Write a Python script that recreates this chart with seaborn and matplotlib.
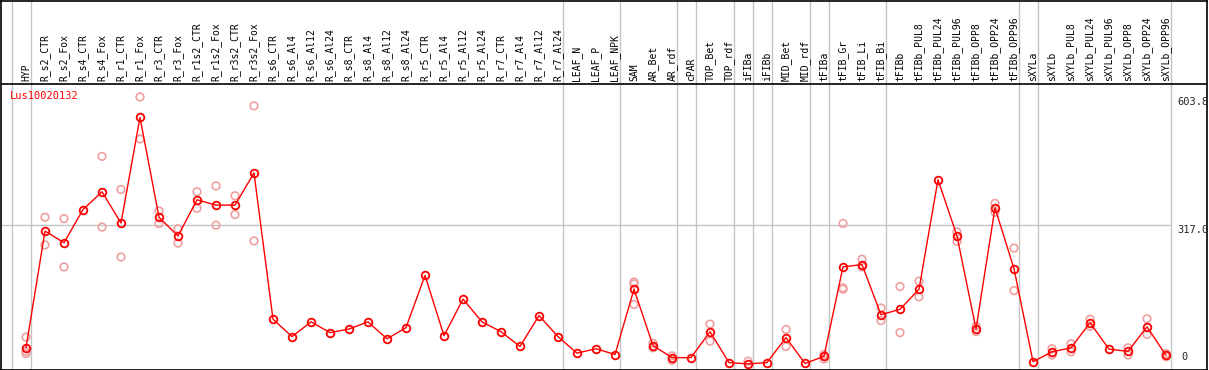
import numpy as np
import pandas as pd
import seaborn as sns
import matplotlib
matplotlib.use("Agg")
import matplotlib.pyplot as plt

# sample names along the x axis
samples = ['HYP', 'R_s2_CTR', 'R_s2_Fox', 'R_s4_CTR', 'R_s4_Fox', 'R_r1_CTR', 'R_r1_Fox',
           'R_r3_CTR', 'R_r3_Fox', 'R_r1s2_CTR', 'R_r1s2_Fox', 'R_r3s2_CTR', 'R_r3s2_Fox',
           'R_s6_CTR', 'R_s6_Al4', 'R_s6_Al12', 'R_s6_Al24', 'R_s8_CTR', 'R_s8_Al4',
           'R_s8_Al12', 'R_s8_Al24', 'R_r5_CTR', 'R_r5_Al4', 'R_r5_Al12', 'R_r5_Al24',
           'R_r7_CTR', 'R_r7_Al4', 'R_r7_Al12', 'R_r7_Al24', 'LEAF_N', 'LEAF_P', 'LEAF_NPK',
           'SAM', 'AR_Bet', 'AR_rdf', 'cPAR', 'TOP_Bet', 'TOP_rdf', 'iFIBa', 'iFIBb',
           'MID_Bet', 'MID_rdf', 'tFIBa', 'tFIB_Gr', 'tFIB_Li', 'tFIB_Bi', 'tFIBb',
           'tFIBb_PUL8', 'tFIBb_PUL24', 'tFIBb_PUL96', 'tFIBb_OPP8', 'tFIBb_OPP24',
           'tFIBb_OPP96', 'sXYLa', 'sXYLb', 'sXYLb_PUL8', 'sXYLb_PUL24', 'sXYLb_PUL96',
           'sXYLb_OPP8', 'sXYLb_OPP24', 'sXYLb_OPP96']

# mean expression per sample
mean_expr = [43, 304, 278, 352, 392, 322, 558, 335, 293, 374, 362, 362, 434,
             107, 68, 101, 77, 85, 101, 63, 88, 205, 70, 152, 101, 79, 46, 115, 68,
             31, 41, 28, 174, 48, 21, 21, 79, 10, 7, 10, 66, 8, 24, 224, 229, 117,
             129, 174, 419, 293, 85, 356, 220, 12, 34, 43, 99, 40, 35, 90, 26]

nan = np.nan
# replicate values (nan = hidden / not present)
rep_a = [67, 335, 332, nan, 471, 397, 604, 349, 309, 392, 405, 383, 584,
         nan, nan, nan, nan, nan, nan, nan, nan, nan, nan, nan, nan, nan, nan, nan, nan,
         nan, nan, nan, 190, 53, 25, nan, 96, nan, 13, nan, 84, nan, 28, 321, 241, 132,
         180, 192, nan, 302, 91, 366, 266, nan, 41, 52, 107, nan, 43, 108, 30]
rep_b = [35, 273, 224, nan, 313, 246, 510, 321, 277, 355, 317, 341, 282,
         nan, nan, nan, nan, nan, nan, nan, nan, nan, nan, nan, nan, nan, nan, nan, nan,
         nan, nan, nan, 186, 43, 15, nan, 58, nan, nan, nan, 46, nan, 18, 177, 224, 104,
         77, 157, nan, 281, 79, 346, 171, nan, 27, 34, 91, nan, 27, 73, 23]
rep_c = [30] + [nan] * 31 + [140] + [nan] * 10 + [174] + [nan] * 17

gene = 'Lus10020132'
# samples after which a group separator is drawn (-1 = left edge)
group_ends = [-1, 0, 28, 31, 34, 35, 37, 38, 39, 41, 42, 45, 52, 53, 60]

x = np.arange(len(samples))
df = pd.DataFrame({'x': x, 'mean': mean_expr})
reps = pd.DataFrame({'x': np.concatenate([x, x, x]),
                     'value': np.concatenate([rep_a, rep_b, rep_c])}).dropna()

sns.set_style('white')
plt.rcParams['font.family'] = ['DejaVu Sans Mono', 'DejaVu Sans']

fig = plt.figure(figsize=(12.09, 3.70), dpi=100)
ax = fig.add_axes([1 / 1209, 0.5 / 370, 1206 / 1209, 369 / 370])

# pixel layout: value 0 at 372px from top, 0.4533 px per unit
scale = 0.4533
y0 = 372.0
ax.set_ylim(-(y0 - 369.5) / scale, (y0 - 0.5) / scale)
ax.set_xlim((1 - 26) / 19, (1207 - 26) / 19)
band = (y0 - 85) / scale

for g in group_ends:
    ax.axvline(g + 0.25, color='#c4c4c4', lw=1, zorder=1)
ax.hlines(317.0, ax.get_xlim()[0], group_ends[-1] + 0.25, color='#c4c4c4', lw=1, zorder=1)
ax.axhline(band, color='black', lw=1.2, zorder=2)

sns.scatterplot(data=reps, x='x', y='value', ax=ax, marker='o', s=30,
                facecolor='none', edgecolor='#f0a0a0', color='#f0a0a0',
                linewidth=1.2, zorder=3, legend=False)
sns.lineplot(data=df, x='x', y='mean', ax=ax, color='red', lw=1,
             marker='o', markersize=5.5, markerfacecolor='none',
             markeredgecolor='red', markeredgewidth=1.3, zorder=4)

for i, name in enumerate(samples):
    ax.text(i, (y0 - 82) / scale, name, rotation=90, ha='center', va='bottom',
            fontsize=7, color='black')

ax.text(-0.85, (y0 - 97) / scale, gene, color='red', fontsize=7.5, va='center', ha='left')

tx = (1177 - 26) / 19
ax.text(tx, 603.8, '603.8', fontsize=7.5, va='top', ha='left')
ax.text(tx, 317.0, '317.0', fontsize=7.5, va='top', ha='left')
ax.text(tx + 0.25, (y0 - 361.7) / scale, '0', fontsize=7.5, va='center', ha='left')

ax.set_xticks([])
ax.set_yticks([])
ax.set_xlabel('')
ax.set_ylabel('')
for s in ax.spines.values():
    s.set_color('black')
    s.set_linewidth(1.2)

fig.savefig('out.png', dpi=100)
